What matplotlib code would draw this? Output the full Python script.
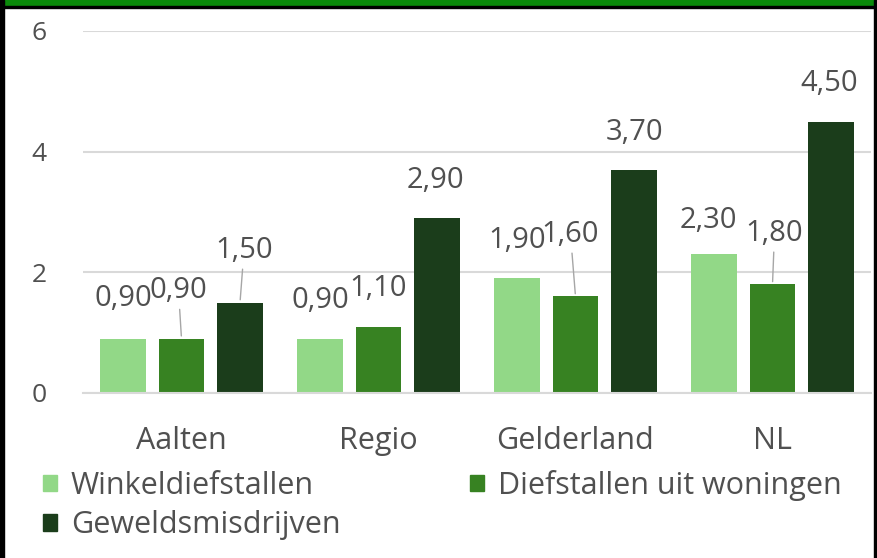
import matplotlib
matplotlib.use("Agg")
import matplotlib.pyplot as plt
from matplotlib.patches import Patch, Rectangle
import numpy as np

# data
regions = ["Aalten", "Regio", "Gelderland", "NL"]
series_names = ["Winkeldiefstallen", "Diefstallen uit woningen", "Geweldsmisdrijven"]
winkel = [0.90, 0.90, 1.90, 2.30]
woning = [0.90, 1.10, 1.60, 1.80]
geweld = [1.50, 2.90, 3.70, 4.50]
y_ticks = [0, 2, 4, 6]

colors = ["#92D887", "#378222", "#1B3D1B"]
text_col = "#505050"

# label offsets in pixels (dx, dy) and which labels get a leader line
label_offsets = [
    [(0, 40), (0, 38), (0, 38), (-6, 34)],
    [(-3, 48), (0, 38), (-5, 62), (2, 51)],
    [(4, 52), (-2, 38), (0, 37), (-2, 38)],
]
leaders = {(1, 0), (1, 2), (1, 3), (2, 0)}

plt.rcParams["font.family"] = ["Open Sans", "DejaVu Sans"]

W, H = 878, 558
fig = plt.figure(figsize=(W / 100, H / 100), dpi=100)
ax = fig.add_axes([83 / W, 1 - 393 / H, (871 - 83) / W, (393 - 31) / H])

x = np.arange(len(regions))
step = 0.297
width = 0.23
all_vals = [winkel, woning, geweld]
for i, vals in enumerate(all_vals):
    pos = x + (i - 1) * step
    ax.bar(pos, vals, width=width, color=colors[i], zorder=2)
    for j, v in enumerate(vals):
        dx, dy = label_offsets[i][j]
        lbl = f"{v:.2f}".replace(".", ",")
        arrow = None
        if (i, j) in leaders:
            arrow = dict(arrowstyle="-", color="#a6a6a6", lw=1, shrinkA=1, shrinkB=2)
        ax.annotate(lbl, xy=(pos[j], v), xytext=(dx, dy), textcoords="offset pixels",
                    ha="center", va="center", fontsize=21, color=text_col,
                    arrowprops=arrow)

ax.set_xlim(-0.5, len(regions) - 0.5)
ax.set_ylim(0, 6)
ax.set_yticks(y_ticks)
ax.set_xticks(x)
ax.set_xticklabels(regions)
ax.tick_params(axis="both", length=0, colors=text_col)
ax.tick_params(axis="y", pad=26, labelsize=19)
ax.tick_params(axis="x", pad=24, labelsize=22)
ax.yaxis.grid(True, color="#d9d9d9", lw=1.5, zorder=0)
ax.set_axisbelow(True)
for s in ax.spines.values():
    s.set_visible(False)
ax.spines["bottom"].set_visible(True)
ax.spines["bottom"].set_color("#d9d9d9")
ax.spines["bottom"].set_linewidth(1.5)

handles = [Patch(color=c) for c in colors]
# reorder so row 1 = first two, row 2 = third
order = [0, 2, 1]
fig.legend([handles[k] for k in order], [series_names[k] for k in order],
           ncol=2, loc="upper left", bbox_to_anchor=(43 / W, 1 - 470 / H),
           frameon=False, fontsize=22, labelcolor=text_col,
           handlelength=0.46, handleheight=0.46, handletextpad=0.45,
           columnspacing=4.25, labelspacing=0.3, borderpad=0, borderaxespad=0)

# border of the screenshot
fig.patches.append(Rectangle((0, 1 - 6 / H), 1, 6 / H, transform=fig.transFigure,
                             color="#0A8A0A", zorder=10))
fig.patches.append(Rectangle((0, 1 - 8 / H), 1, 2 / H, transform=fig.transFigure,
                             color="black", zorder=10))
fig.patches.append(Rectangle((0, 0), 4 / W, 1, transform=fig.transFigure,
                             color="black", zorder=10))
fig.patches.append(Rectangle((1 - 4 / W, 0), 4 / W, 1, transform=fig.transFigure,
                             color="black", zorder=10))

fig.savefig("out.png", dpi=100)
